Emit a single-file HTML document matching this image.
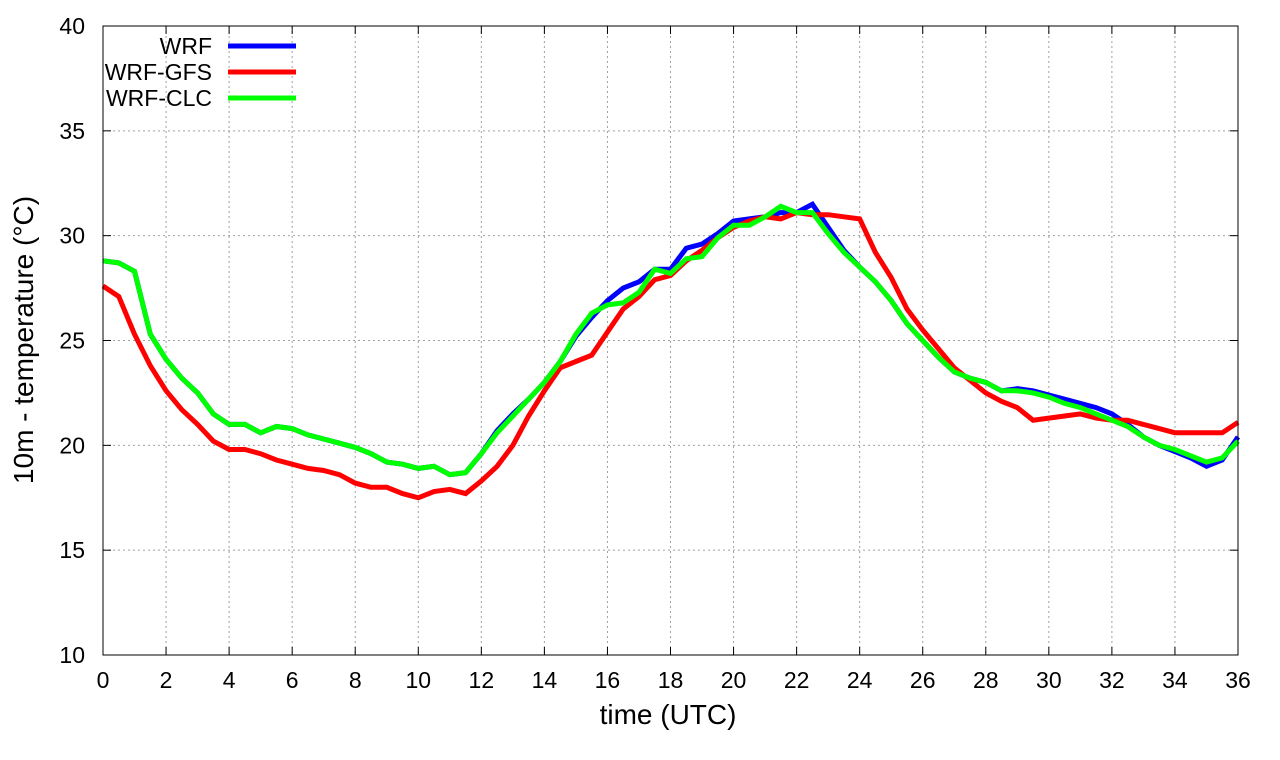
<!DOCTYPE html>
<html><head><meta charset="utf-8"><style>
html,body{margin:0;padding:0;background:#fff;}
svg{display:block;font-family:"Liberation Sans",sans-serif;}
</style></head><body>
<svg id="chart" width="1280" height="760" viewBox="0 0 1280 760" xmlns="http://www.w3.org/2000/svg"></svg>
<script>
const xTicks=[0,2,4,6,8,10,12,14,16,18,20,22,24,26,28,30,32,34,36];
const yTicks=[10,15,20,25,30,35,40];
const seriesNames=["WRF","WRF-GFS","WRF-CLC"];
const wrf=[28.8,28.7,28.3,25.3,24.1,23.2,22.5,21.5,21.0,21.0,20.6,20.9,20.8,20.5,20.3,20.1,19.9,19.6,19.2,19.1,18.9,19.0,18.6,18.7,19.6,20.7,21.5,22.2,23.0,24.0,25.2,26.1,26.9,27.5,27.8,28.4,28.4,29.4,29.6,30.1,30.7,30.8,30.9,31.1,31.1,31.5,30.4,29.3,28.5,27.8,26.9,25.8,25.0,24.2,23.5,23.2,23.0,22.6,22.7,22.6,22.4,22.2,22.0,21.8,21.5,21.0,20.4,20.0,19.7,19.4,19.0,19.3,20.4];
const wrfGfs=[27.6,27.1,25.3,23.8,22.6,21.7,21.0,20.2,19.8,19.8,19.6,19.3,19.1,18.9,18.8,18.6,18.2,18.0,18.0,17.7,17.5,17.8,17.9,17.7,18.3,19.0,20.0,21.4,22.6,23.7,24.0,24.3,25.4,26.5,27.1,27.9,28.1,28.8,29.3,29.9,30.4,30.7,30.9,30.8,31.1,31.0,31.0,30.9,30.8,29.2,28.0,26.5,25.5,24.6,23.7,23.1,22.5,22.1,21.8,21.2,21.3,21.4,21.5,21.3,21.2,21.2,21.0,20.8,20.6,20.6,20.6,20.6,21.1];
const wrfClc=[28.8,28.7,28.3,25.3,24.1,23.2,22.5,21.5,21.0,21.0,20.6,20.9,20.8,20.5,20.3,20.1,19.9,19.6,19.2,19.1,18.9,19.0,18.6,18.7,19.6,20.6,21.4,22.2,23.0,24.0,25.3,26.3,26.7,26.8,27.3,28.4,28.2,28.9,29.0,29.9,30.5,30.5,30.9,31.4,31.1,31.1,30.1,29.2,28.5,27.8,26.9,25.8,25.0,24.2,23.5,23.2,23.0,22.6,22.6,22.5,22.3,22.0,21.8,21.5,21.2,20.9,20.4,20.0,19.8,19.5,19.2,19.4,20.2];
const X0=103,X1=1238,Y0=655,Y1=26;
const sx=t=>X0+(t/36)*(X1-X0);
const sy=v=>Y0-(v-10)/30*(Y0-Y1);
const NS="http://www.w3.org/2000/svg";
const svg=document.getElementById('chart');
function mk(tag,attrs,parent){const e=document.createElementNS(NS,tag);for(const k in attrs)e.setAttribute(k,attrs[k]);(parent||svg).appendChild(e);return e;}
xTicks.forEach(t=>{
  const x=sx(t);
  if(t>0&&t<36){const g=mk('line',{x1:x,y1:Y1,x2:x,y2:Y0,stroke:'#a0a0a0','stroke-width':1,'stroke-dasharray':'2,3'});
  
  }
  const tk=mk('line',{x1:x,y1:Y0,x2:x,y2:Y0-8,stroke:'#000','stroke-width':1});
  
  
  const tk2=mk('line',{x1:x,y1:Y1,x2:x,y2:Y1+8,stroke:'#000','stroke-width':1});
  
  
  const l=mk('text',{x:x,y:Y0+33,'text-anchor':'middle','font-size':23,fill:'#000'});
  l.textContent=t;
  
  
});
yTicks.forEach(v=>{
  const y=sy(v);
  if(v>10&&v<40){const g=mk('line',{x1:X0,y1:y,x2:X1,y2:y,stroke:'#a0a0a0','stroke-width':1,'stroke-dasharray':'2,3'});
  
  }
  const tk=mk('line',{x1:X0,y1:y,x2:X0+8,y2:y,stroke:'#000','stroke-width':1});
  
  
  const tk2=mk('line',{x1:X1,y1:y,x2:X1-8,y2:y,stroke:'#000','stroke-width':1});
  
  
  const l=mk('text',{x:X0-18,y:y+8,'text-anchor':'end','font-size':23,fill:'#000'});
  l.textContent=v;
  
  
});
const colors=['#0000ff','#ff0000','#00ff00'];
const data=[wrf,wrfGfs,wrfClc];
data.forEach((d,i)=>{
  const pts=d.map((v,j)=>sx(j*0.5).toFixed(1)+','+sy(v).toFixed(1)).join(' ');
  const p=mk('polyline',{points:pts,fill:'none',stroke:colors[i],'stroke-width':5,'stroke-linejoin':'miter'});
  
  
});
seriesNames.forEach((n,i)=>{
  const y=46+i*26;
  const t=mk('text',{x:212,y:y+8,'text-anchor':'end','font-size':23,fill:'#000'});
  t.textContent=n;
  
  
  const l=mk('line',{x1:228,y1:y,x2:296,y2:y,stroke:colors[i],'stroke-width':5});
  
  
});
const frame=mk('rect',{x:X0,y:Y1,width:X1-X0,height:Y0-Y1,fill:'none',stroke:'#000','stroke-width':1});


const xt=mk('text',{x:668,y:724,'text-anchor':'middle','font-size':28,fill:'#000'});
xt.textContent='time (UTC)';


const yt=mk('text',{x:0,y:0,'text-anchor':'middle','font-size':28,fill:'#000',transform:'translate(33,340) rotate(-90)'});
yt.textContent='10m - temperature (°C)';


</script>
</body></html>
